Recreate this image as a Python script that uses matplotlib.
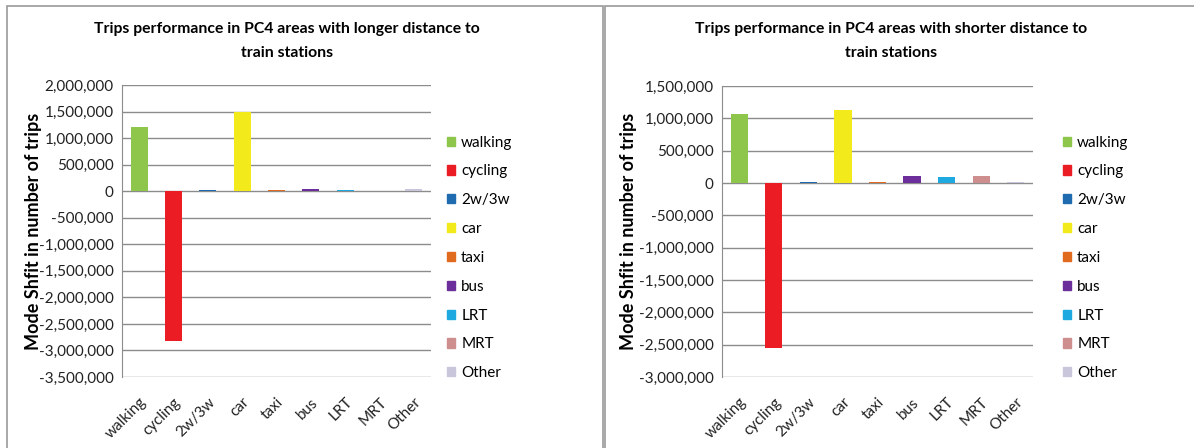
import matplotlib.pyplot as plt
from matplotlib.patches import Patch, Rectangle
from matplotlib.ticker import FuncFormatter

plt.rcParams['font.family'] = ['Lato', 'DejaVu Sans']

modes = ['walking', 'cycling', '2w/3w', 'car', 'taxi', 'bus', 'LRT', 'MRT', 'Other']
colors = ['#8DC64A', '#EC1C24', '#1F6BB0', '#F2EA1A', '#E06A1E', '#6B2E9A', '#1EA9E1', '#CF8E8E', '#C9C6DC']

longer = [1200000, -2830000, 20000, 1500000, 20000, 40000, 25000, 12000, 35000]
shorter = [1070000, -2550000, 15000, 1130000, 15000, 110000, 93000, 110000, 8000]

titles = ['Trips performance in PC4 areas with longer distance to\ntrain stations',
          'Trips performance in PC4 areas with shorter distance to\ntrain stations']
ylims = [(-3500000, 2000000), (-3000000, 1500000)]

W, H = 1194, 448
fig = plt.figure(figsize=(W / 100, H / 100), dpi=100)

# panel frames
for x0, x1 in [(7, 603), (605, 1200)]:
    fig.patches.append(Rectangle((x0 / W, -0.1), (x1 - x0) / W, (H - 6) / H + 0.1,
                                 transform=fig.transFigure, fill=False,
                                 edgecolor='#9A9A9A', lw=1.2))


def px(x0, y0, x1, y1):
    return [x0 / W, (H - y1) / H, (x1 - x0) / W, (y1 - y0) / H]


boxes = [px(122, 85, 431, 377), px(722, 86, 1033, 377)]
title_x = [287, 891]
ylab_x = [42, 637]
leg_x = [439, 1055]

fmt = FuncFormatter(lambda v, p: f'{int(v):,}')

for i, vals in enumerate([longer, shorter]):
    ax = fig.add_axes(boxes[i])
    ax.bar(range(len(modes)), vals, width=0.5, color=colors, zorder=3)
    lo, hi = ylims[i]
    ax.set_ylim(lo, hi)
    ax.set_yticks(range(lo, hi + 1, 500000))
    ax.yaxis.set_major_formatter(fmt)
    ax.set_xlim(-0.5, len(modes) - 0.5)
    ax.set_xticks(range(len(modes)))
    ax.set_xticklabels(modes, rotation=45, ha='right', rotation_mode='anchor')
    ax.grid(axis='y', color='#8C8C8C', lw=1, zorder=0)
    for s in ['top', 'right', 'bottom']:
        ax.spines[s].set_visible(False)
    ax.spines['left'].set_color('#8C8C8C')
    ax.tick_params(length=0, labelsize=11, pad=6, colors='#222222')
    ax.tick_params(axis='x', pad=13)
    ax.set_ylabel('Mode Shfit in number of trips', fontsize=13, fontweight='bold')
    ax.yaxis.set_label_coords((ylab_x[i] - boxes[i][0] * W) / (boxes[i][2] * W), 0.5)
    fig.text(title_x[i] / W, (H - 22) / H, titles[i], ha='center', va='top',
             fontsize=11.3, fontweight='bold', linespacing=1.9)
    handles = [Patch(color=c, label=m) for m, c in zip(modes, colors)]
    fig.legend(handles=handles, loc='upper left',
               bbox_to_anchor=(leg_x[i] / W, (H - 128) / H),
               frameon=False, fontsize=11, handlelength=0.55, handleheight=0.55,
               handletextpad=0.4, labelspacing=0.97, borderpad=0)

fig.savefig('out.png', dpi=100)
